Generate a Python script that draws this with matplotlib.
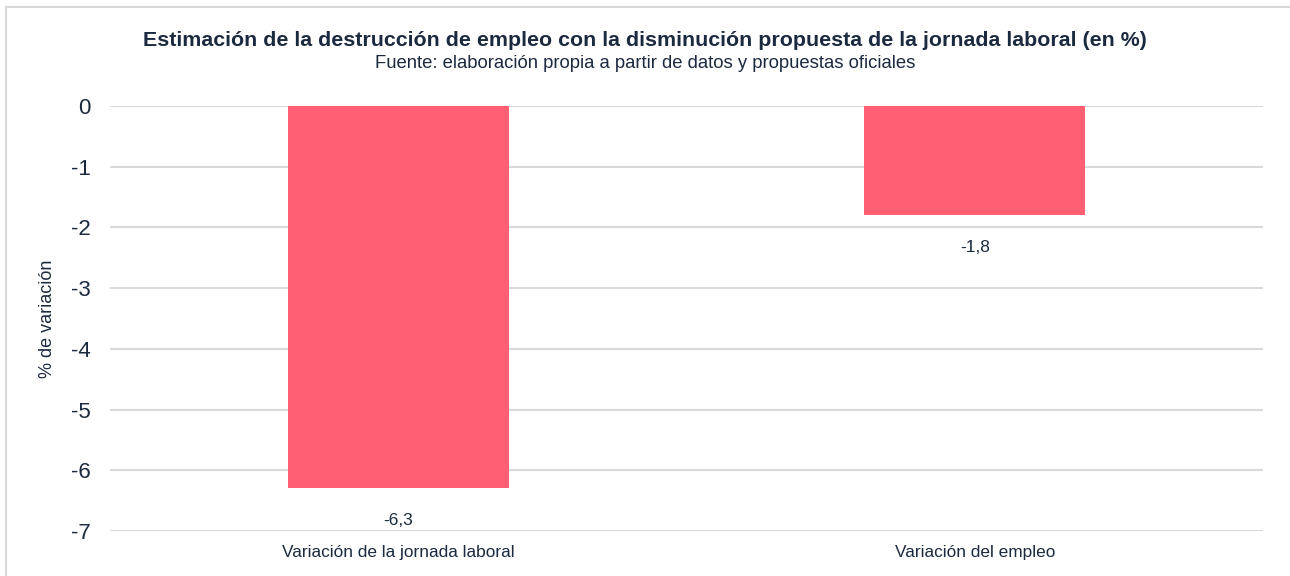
import matplotlib
matplotlib.use('Agg')
from matplotlib import pyplot as plt
from matplotlib.patches import Rectangle

# datos del grafico
categorias = ['Variación de la jornada laboral', 'Variación del empleo']
valores = [-6.3, -1.8]
etiquetas = ['-6,3', '-1,8']
yticks = [0, -1, -2, -3, -4, -5, -6, -7]

plt.rcParams['font.family'] = ['Liberation Sans', 'DejaVu Sans']
texto = '#1b2a3f'
rojo = '#ff5e73'

fig = plt.figure(figsize=(12.9, 5.76), dpi=100)
ax = fig.add_axes([110/1290, 1 - 531/576, (1263-110)/1290, (531-106)/576])

x = range(len(categorias))
ax.bar(x, valores, width=0.383, color=rojo, zorder=3)
for xi, v, lab in zip(x, valores, etiquetas):
    ax.text(xi, v - 0.53, lab, ha='center', va='center', fontsize=12.5, color=texto)

ax.set_xlim(-0.5, 1.5)
ax.set_ylim(-7, 0)
ax.set_yticks(yticks)
ax.set_yticklabels([str(t) for t in yticks], fontsize=16, color=texto)
ax.set_xticks(list(x))
ax.set_xticklabels(categorias, fontsize=12.4, color=texto)
ax.tick_params(axis='both', length=0)
ax.tick_params(axis='y', pad=14)
ax.tick_params(axis='x', pad=10)
ax.yaxis.grid(True, color='#d9d9d9', linewidth=1.5, zorder=0)
for s in ax.spines.values():
    s.set_visible(False)

ax.set_ylabel('% de variación', fontsize=13, color=texto, va='center')
ax.yaxis.set_label_coords(-(110-47)/1153, 0.5)

fig.text(0.5, 1 - 40/576, 'Estimación de la destrucción de empleo con la disminución propuesta de la jornada laboral (en %)',
         ha='center', va='center', fontsize=15.4, fontweight='bold', color=texto)
fig.text(0.5, 1 - 63/576, 'Fuente: elaboración propia a partir de datos y propuestas oficiales',
         ha='center', va='center', fontsize=13.3, color=texto)

# marco gris
fig.patches.append(Rectangle((6/1290, -0.05), 1.1, 1 - 7/576 + 0.05, transform=fig.transFigure,
                             fill=False, edgecolor='#d9d9d9', linewidth=1.5))

fig.savefig('out.png', dpi=100)
